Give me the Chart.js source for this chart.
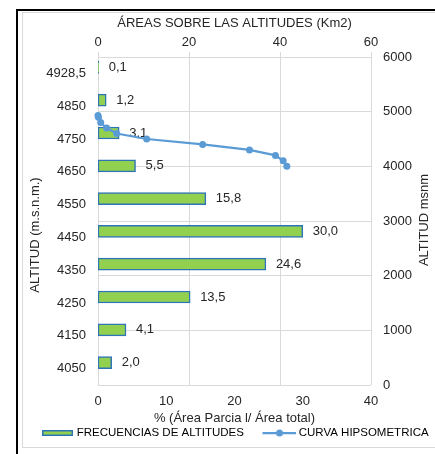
<!DOCTYPE html>
<html><head><meta charset="utf-8">
<script src="https://cdn.jsdelivr.net/npm/chart.js@4.4.0/dist/chart.umd.min.js"></script>
<style>
html,body{margin:0;padding:0;background:#fff;width:435px;height:454px;overflow:hidden;}
#wrap{position:relative;width:435px;height:454px;}
.bl{position:absolute;background:#000;}
#frame{position:absolute;left:22px;top:12px;width:440px;height:436px;border:1px solid #d9d9d9;box-sizing:border-box;}
#c{position:absolute;left:0;top:0;}
</style></head>
<body><div id="wrap">
<div class="bl" style="left:16px;top:9px;width:2px;height:445px"></div>
<div class="bl" style="left:16px;top:9px;width:419px;height:2px"></div>
<div id="frame"></div>
<canvas id="c" width="435" height="454" style="width:435px;height:454px"></canvas>
</div>
<script>
// ---- data ----
const categories = ['4928,5','4850','4750','4650','4550','4450','4350','4250','4150','4050'];
const frequencyPct = [0.1, 1.2, 3.1, 5.5, 15.8, 30.0, 24.6, 13.5, 4.1, 2.0];
const curveArea = [41.5, 40.7, 39.0, 33.3, 23.0, 10.7, 4.1, 1.9, 0.6, 0.1, 0.0];
const curveAltitude = [4000, 4100, 4200, 4300, 4400, 4500, 4600, 4700, 4800, 4900, 4928.5];
const pctRange = [0, 40, 10];
const areaRange = [0, 60, 20];
const altRange = [0, 6000, 1000];

const FONT = "'Liberation Sans', Arial, sans-serif";
const TEXT = '#262626';
const GREEN = '#92D050';
const BAR_BORDER = '#2E75B6';
const LINE = '#5B9BD5';
const GRID = '#d9d9d9';

Chart.defaults.font.family = FONT;
Chart.defaults.font.size = 13;
Chart.defaults.color = TEXT;

function makeImg(w, h, draw) {
  const c = document.createElement('canvas');
  c.width = w; c.height = h;
  draw(c.getContext('2d'));
  return c;
}
const barLegendImg = makeImg(51, 12, g => {
  g.fillStyle = GREEN; g.fillRect(20, 3, 31, 6);
  g.strokeStyle = BAR_BORDER; g.lineWidth = 1.5; g.strokeRect(20.75, 3.75, 29.5, 4.5);
});
const lineLegendImg = makeImg(54, 12, g => {
  g.strokeStyle = LINE; g.lineWidth = 2.25;
  g.beginPath(); g.moveTo(20, 6); g.lineTo(54, 6); g.stroke();
  g.fillStyle = LINE; g.beginPath(); g.arc(37, 6, 3.5, 0, Math.PI * 2); g.fill();
});

const barLabels = {
  id: 'barLabels',
  afterDatasetDraw(chart, args) {
    if (args.index !== 0) return;
    const ctx = chart.ctx;
    ctx.save();
    ctx.font = '13px ' + FONT;
    ctx.fillStyle = TEXT;
    ctx.textAlign = 'left';
    ctx.textBaseline = 'middle';
    args.meta.data.forEach((el, i) => {
      ctx.fillText(frequencyPct[i].toFixed(1).replace('.', ','), el.x + 10, el.y);
    });
    ctx.restore();
  }
};

const sideTitles = {
  id: 'sideTitles',
  afterDraw(chart) {
    const ctx = chart.ctx;
    ctx.save();
    ctx.font = '13px ' + FONT;
    ctx.fillStyle = TEXT;
    ctx.textAlign = 'center';
    ctx.textBaseline = 'middle';
    const draw = (t, x, y) => {
      ctx.save(); ctx.translate(x, y); ctx.rotate(-Math.PI / 2); ctx.fillText(t, 0, 0); ctx.restore();
    };
    draw('ALTITUD (m.s.n.m.)', 35.5, 235);
    draw('ALTITUD msnm', 424, 220);
    ctx.restore();
  }
};

new Chart(document.getElementById('c'), {
  type: 'bar',
  data: {
    labels: categories,
    datasets: [
      {
        type: 'bar',
        label: 'FRECUENCIAS DE ALTITUDES',
        data: frequencyPct,
        xAxisID: 'x', yAxisID: 'y', indexAxis: 'y',
        backgroundColor: GREEN, borderColor: BAR_BORDER, borderWidth: 1.5,
        borderSkipped: false, barThickness: 12, order: 1
      },
      {
        type: 'line',
        label: 'CURVA HIPSOMETRICA',
        data: curveArea.map((a, i) => ({x: a, y: curveAltitude[i]})),
        xAxisID: 'x2', yAxisID: 'y2', indexAxis: 'x',
        borderColor: LINE, backgroundColor: LINE, borderWidth: 2.25,
        pointRadius: 3.5, pointBackgroundColor: LINE, pointBorderColor: LINE, pointBorderWidth: 0,
        tension: 0, fill: false, clip: false, order: 0
      }
    ]
  },
  options: {
    responsive: false,
    animation: false,
    indexAxis: 'y',
    layout: { padding: { left: 22, top: 13, right: 0, bottom: 5.25 } },
    scales: {
      x: {
        type: 'linear', position: 'bottom', min: pctRange[0], max: pctRange[1], offset: false,
        ticks: { stepSize: pctRange[2], padding: 9 },
        grid: { display: false, drawTicks: false, offset: false }, border: { display: false },
        title: { display: true, text: '% (Área Parcia l/ Área total)', padding: { top: 0, bottom: -0.55 } },
        afterFit: s => { s.height = 40.25; }
      },
      y: {
        type: 'category', position: 'left', offset: true,
        ticks: { padding: 12 },
        grid: { display: false, drawTicks: false }, border: { display: false },
        afterFit: s => { s.width = 76; }
      },
      x2: {
        type: 'linear', position: 'top', min: areaRange[0], max: areaRange[1], offset: false,
        ticks: { stepSize: areaRange[2], padding: 2 },
        grid: { color: GRID, lineWidth: 1, drawTicks: true, tickLength: 5, tickColor: GRID, offset: false },
        border: { display: false },
        title: { display: true, text: 'ÁREAS SOBRE LAS ALTITUDES (Km2)', padding: { top: 3, bottom: 0 } },
        afterFit: s => { s.height = 44; }
      },
      y2: {
        type: 'linear', position: 'right', min: altRange[0], max: altRange[1], offset: false,
        ticks: { stepSize: altRange[2], padding: 12, callback: v => String(v) },
        grid: { color: GRID, lineWidth: 1, drawTicks: false, offset: false },
        border: { display: false },
        afterFit: s => { s.width = 64; }
      }
    },
    plugins: {
      tooltip: { enabled: false },
      legend: {
        position: 'bottom', align: 'start',
        labels: {
          usePointStyle: true, pointStyleWidth: 47, padding: 2,
          font: { size: 11.5 }, color: TEXT,
          generateLabels: () => [
            { text: 'FRECUENCIAS DE ALTITUDES', pointStyle: barLegendImg, fillStyle: GREEN, strokeStyle: BAR_BORDER, lineWidth: 0, hidden: false, datasetIndex: 0 },
            { text: 'CURVA HIPSOMETRICA', pointStyle: lineLegendImg, fillStyle: LINE, strokeStyle: LINE, lineWidth: 0, hidden: false, datasetIndex: 1 }
          ]
        }
      }
    }
  },
  plugins: [barLabels, sideTitles]
});
</script>
</body></html>
